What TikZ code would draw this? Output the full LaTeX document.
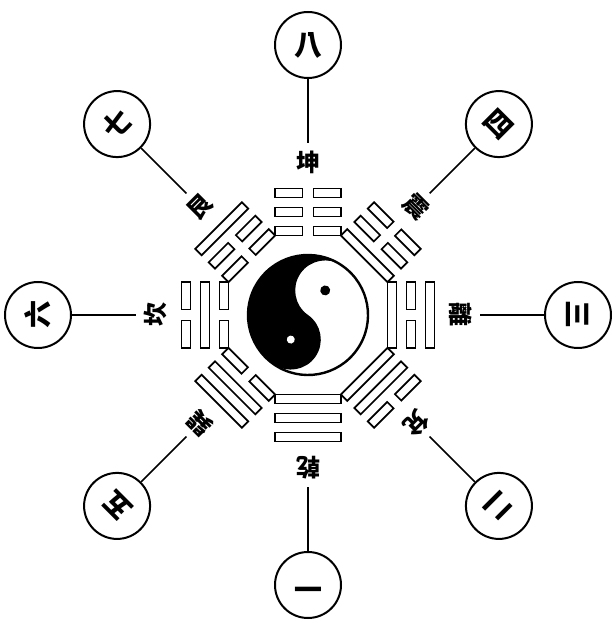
\documentclass[tikz,border=0pt]{standalone}
\usepackage{fontspec}
\newfontfamily\cjk{Noto Sans CJK TC}
\usetikzlibrary{calc}
\newcommand\trigline[2]{%
  \ifnum#2=1
    \draw[bar] (-33,#1-4.5) rectangle (33,#1+4.5);
  \else
    \draw[bar] (-33,#1-4.5) rectangle (-5.5,#1+4.5);
    \draw[bar] (5.5,#1-4.5) rectangle (33,#1+4.5);
  \fi}
\begin{document}
\begin{tikzpicture}[x=1pt,y=1pt,
  bar/.style={draw=black,fill=white,line width=1.7pt},
  ring/.style={draw=black,line width=2pt,fill=white,circle,minimum size=66pt,inner sep=0pt},
  lbl/.style={font=\cjk\bfseries\fontsize{24}{24}\selectfont,inner sep=0pt},
  num/.style={font=\cjk\bfseries\fontsize{28}{28}\selectfont,inner sep=0pt},
  link/.style={line width=1.6pt}]
\useasboundingbox[fill=white] (0,0) rectangle (612,623);
\coordinate (O) at (308,308);
% taiji
\begin{scope}[shift={(O)},rotate=-35]
  \fill[white] (0,0) circle (60);
  \fill[black] (0,60) arc[start angle=90,end angle=270,radius=60]
     arc[start angle=-90,end angle=90,radius=30]
     arc[start angle=-90,end angle=-270,radius=30] -- cycle;
  \fill[black] (0,30) circle (5);
  \fill[white] (0,-30) circle (4);
  \draw[line width=2.4pt] (0,0) circle (60);
\end{scope}
\foreach \a/\p/\q/\r/\lab/\n/\nm in {
  90/0/0/0/坤/八/kun,
  45/1/0/0/震/四/zhen,
  0/1/0/1/離/三/li,
  -45/1/1/0/兌/二/dui,
  -90/1/1/1/乾/一/qian,
  -135/0/1/1/巽/五/xun,
  180/0/1/0/坎/六/kan,
  135/0/0/1/艮/七/gen}{
  \begin{scope}[shift={(O)},rotate=\a-90]
    \trigline{84}{\p}
    \trigline{103}{\q}
    \trigline{122}{\r}
  \end{scope}
  \node[ring,num,rotate=\a-90] (c\nm) at ($(O)+(\a:270)$) {\n};
  \coordinate (e\nm) at ($(O)+(\a:172)$);
  \node[lbl,rotate=\a-90] (l\nm) at ($(O)+(\a:153)$) {\lab};
  \draw[link] (c\nm) -- (e\nm);
}
\end{tikzpicture}
\end{document}
